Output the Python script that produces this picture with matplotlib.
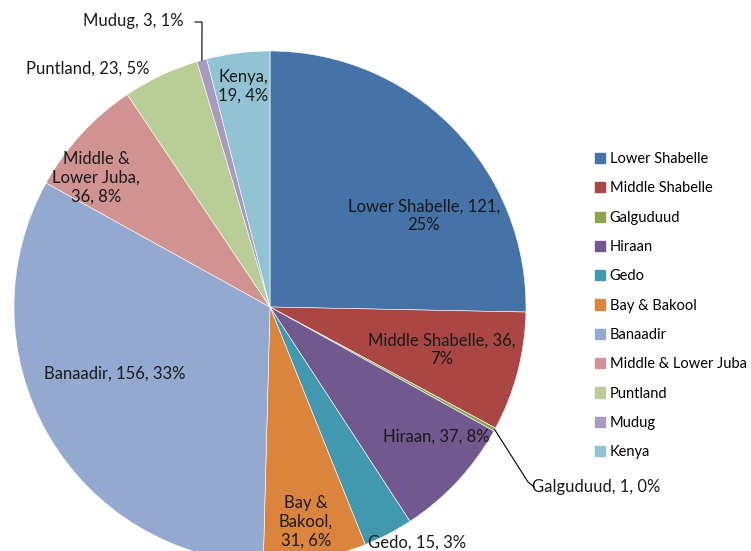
import numpy as np
import matplotlib

matplotlib.use("Agg")
import matplotlib.pyplot as plt

regions = ["Lower Shabelle", "Middle Shabelle", "Galguduud", "Hiraan", "Gedo",
           "Bay & Bakool", "Banaadir", "Middle & Lower Juba", "Puntland", "Mudug", "Kenya"]
counts = [121, 36, 1, 37, 15, 31, 156, 36, 23, 3, 19]
percents = ["25%", "7%", "0%", "8%", "3%", "6%", "33%", "8%", "5%", "1%", "4%"]
colors = ["#4572A7", "#AA4643", "#89A54E", "#71588F", "#4198AF", "#DB843D",
          "#93A9CF", "#D19392", "#B9CD96", "#A99BBD", "#92C3D5"]

# label layout (pixel coords, y down), line breaks as in the original
label_text = [
    "{n}, {c},\n{p}", "{n}, {c},\n{p}", "{n}, {c}, {p}", "{n}, {c}, {p}", "{n}, {c}, {p}",
    "Bay &\nBakool,\n{c}, {p}", "{n}, {c}, {p}", "Middle &\nLower Juba,\n{c}, {p}",
    "{n}, {c}, {p}", "{n}, {c}, {p}", "{n},\n{c}, {p}",
]
label_pos = [(424, 216), (442, 350), (596, 487), (436, 437), (417, 543), (306, 522),
             (115, 374), (96, 178), (88, 69), (133, 21), (243, 86)]

W, H = 751, 551
CX, CY, R = 270, 307, 256

plt.rcParams["font.family"] = ["Lato", "DejaVu Sans"]

fig = plt.figure(figsize=(W / 100, H / 100), dpi=100)
ax = fig.add_axes([0, 0, 1, 1])
wedges, _ = ax.pie(counts, colors=colors, startangle=90, counterclock=False,
                   center=(CX, H - CY), radius=R, frame=True,
                   wedgeprops=dict(linewidth=0.4, edgecolor="white"))
ax.set_xlim(0, W)
ax.set_ylim(0, H)
ax.axis("off")

for i, name in enumerate(regions):
    txt = label_text[i].format(n=name, c=counts[i], p=percents[i])
    x, y = label_pos[i]
    ax.text(x, H - y, txt, ha="center", va="center", fontsize=12,
            color="#1a1a1a", linespacing=1.2)


def edge_point(idx):
    w = wedges[idx]
    ang = np.deg2rad((w.theta1 + w.theta2) / 2)
    return CX + R * np.cos(ang), H - CY + R * np.sin(ang)


# leader lines for the two thin slices
gx, gy = edge_point(2)
ax.plot([gx, 528, 534], [gy, H - 482, H - 487], color="black", lw=0.8)
mx, my = edge_point(9)
ax.plot([mx, 202, 195], [my, H - 22, H - 22], color="black", lw=0.8)

handles = [plt.Rectangle((0, 0), 1, 1, color=c) for c in colors]
fig.legend(handles, regions, loc="upper left", bbox_to_anchor=(582 / W, 1 - 139 / H),
           frameon=False, fontsize=10.5, handlelength=0.7, handleheight=0.7,
           handletextpad=0.3, labelspacing=1.05)

fig.savefig("out.png", dpi=100)
